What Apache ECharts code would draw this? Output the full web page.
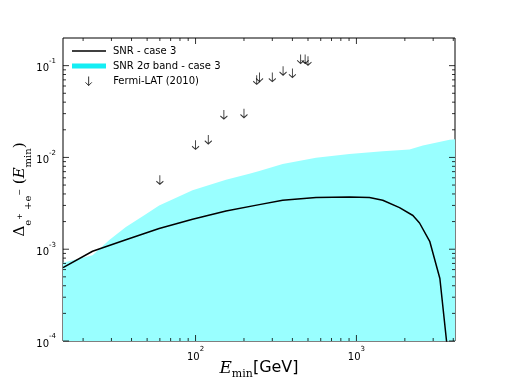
<!DOCTYPE html>
<html>
<head>
<meta charset="utf-8">
<script src="https://cdn.jsdelivr.net/npm/echarts@6/dist/echarts.min.js"></script>
<style>
  html, body { margin: 0; padding: 0; background: #fff; }
  #chart { width: 506px; height: 379px; }
</style>
</head>
<body>
<div id="chart"></div>
<script>
// band upper edge (SNR 2 sigma, case 3)
const bandE = [15, 22.9, 29.1, 36.9, 48, 59.4, 95.8, 154.6, 216, 249, 348, 561, 904, 1458, 2138, 2588, 3796, 4100]
const bandUpper = [7.1e-4, 8.6e-4, 1.26e-3, 1.75e-3, 2.34e-3, 3.0e-3, 4.4e-3, 5.7e-3, 6.65e-3, 7.1e-3, 8.5e-3, 9.9e-3, 1.09e-2, 1.17e-2, 1.22e-2, 1.35e-2, 1.56e-2, 1.58e-2]

// SNR case 3 curve
const lineE = [15, 22.9, 36.9, 59.4, 95.8, 154.6, 249, 348, 561, 904, 1205, 1458, 1853, 2245, 2468, 2855, 3302, 3632, 3700]
const lineV = [6.3e-4, 9.5e-4, 1.27e-3, 1.68e-3, 2.12e-3, 2.61e-3, 3.06e-3, 3.41e-3, 3.65e-3, 3.7e-3, 3.65e-3, 3.41e-3, 2.84e-3, 2.33e-3, 1.93e-3, 1.22e-3, 4.8e-4, 1.0e-4, 8e-5]

// Fermi-LAT (2010) upper limits
const fermiE = [60, 100, 120, 150, 200, 240, 250, 300, 350, 400, 450, 480, 500]
const fermiV = [5.7e-3, 1.37e-2, 1.57e-2, 2.93e-2, 3.03e-2, 7.0e-2, 7.5e-2, 7.5e-2, 8.8e-2, 8.3e-2, 0.118, 0.118, 0.113]

// axis ticks
const xMajor = [100, 1000]
const xMinor = [20, 30, 40, 50, 60, 70, 80, 90, 200, 300, 400, 500, 600, 700, 800, 900, 2000, 3000, 4000]
const yMajor = [1e-4, 1e-3, 1e-2, 1e-1]
const yMinor = []
;[-4, -3, -2, -1].forEach(d => {
  for (let k = 2; k <= 9; k++) {
    const v = k * Math.pow(10, d)
    if (v < 0.2) yMinor.push(v)
  }
})

const xMin = 15
const xMax = 4100
const yMin = 1e-4
const yMax = 0.2

const zip = (a, b) => a.map((v, i) => [v, b[i]])

// inside tick marks on all four sides, as small rect symbols placed on the frame
const tickItems = []
const addX = (vals, len) => vals.forEach(v => {
  tickItems.push({ value: [v, yMin], symbolSize: [1, len], symbolOffset: [0, -len / 2] })
  tickItems.push({ value: [v, yMax], symbolSize: [1, len], symbolOffset: [0, len / 2] })
})
const addY = (vals, len) => vals.forEach(v => {
  tickItems.push({ value: [xMin, v], symbolSize: [len, 1], symbolOffset: [len / 2, 0] })
  tickItems.push({ value: [xMax, v], symbolSize: [len, 1], symbolOffset: [-len / 2, 0] })
})
addX(xMajor, 6)
addX(xMinor, 3)
addY(yMajor, 6)
addY(yMinor, 3)

const expFormatter = v => '{b|10}{s|' + Math.round(Math.log10(v)) + '}'
const expRich = {
  b: { fontSize: 10, fontFamily: 'DejaVu Sans', color: '#000', lineHeight: 16, verticalAlign: 'bottom' },
  s: { fontSize: 7, fontFamily: 'DejaVu Sans', color: '#000', lineHeight: 9, verticalAlign: 'top' }
}

const legendText = { fontSize: 10, fontFamily: 'DejaVu Sans', color: '#000', padding: [0, 0, 0, 2] }

const chart = echarts.init(document.getElementById('chart'))
const option = {
  backgroundColor: '#fff',
  animation: false,
  grid: {
    left: 63, right: 51, top: 38, bottom: 38,
    outerBoundsMode: 'none',
    show: true, borderColor: '#000', borderWidth: 1, backgroundColor: 'rgba(0,0,0,0)'
  },
  legend: [
    {
      data: [{ name: 'SNR - case 3', icon: 'rect', itemStyle: { color: '#000' } }],
      left: 72, top: 46, padding: 0,
      itemWidth: 34, itemHeight: 1.5,
      textStyle: legendText
    },
    {
      data: [{ name: 'SNR 2\u03c3 band - case 3', icon: 'rect', itemStyle: { color: '#14eef4' } }],
      left: 72, top: 61, padding: 0,
      itemWidth: 34, itemHeight: 5,
      textStyle: legendText
    },
    {
      data: [{ name: 'Fermi-LAT (2010)', itemStyle: { color: 'rgba(0,0,0,0)', borderColor: '#000', borderWidth: 1 } }],
      left: 85, top: 76, padding: 0,
      itemWidth: 7, itemHeight: 9,
      textStyle: Object.assign({}, legendText, { padding: [0, 0, 0, 16] })
    }
  ],
  xAxis: {
    type: 'log',
    min: xMin,
    max: xMax,
    axisLine: { show: false },
    axisTick: { show: false },
    splitLine: { show: false },
    axisLabel: { show: true, customValues: xMajor, margin: 5, formatter: expFormatter, rich: expRich },
    name: '{e|E}{m|min}{g|[GeV]}',
    nameLocation: 'middle',
    nameGap: 19,
    nameMoveOverlap: false,
    nameTextStyle: {
      rich: {
        e: { fontSize: 17, fontFamily: 'DejaVu Serif', fontStyle: 'italic', color: '#000', lineHeight: 20, verticalAlign: 'top' },
        m: { fontSize: 11, fontFamily: 'DejaVu Serif', color: '#000', lineHeight: 13, verticalAlign: 'bottom' },
        g: { fontSize: 16, fontFamily: 'DejaVu Sans', color: '#000', lineHeight: 20, verticalAlign: 'top' }
      }
    }
  },
  yAxis: {
    type: 'log',
    min: yMin,
    max: yMax,
    axisLine: { show: false },
    axisTick: { show: false },
    splitLine: { show: false },
    axisLabel: { show: true, customValues: yMajor, margin: 7, formatter: expFormatter, rich: expRich },
    name: '{d|\u0394}{sub|e}{sup|+}{sub| +e}{sup|\u2212}{d| (}{e|E}{sub|min}{d|)}',
    nameLocation: 'middle',
    nameRotate: 90,
    nameGap: 30,
    nameMoveOverlap: false,
    nameTextStyle: {
      rich: {
        d: { fontSize: 15, fontFamily: 'DejaVu Serif', color: '#000', lineHeight: 18, verticalAlign: 'top' },
        e: { fontSize: 15, fontFamily: 'DejaVu Serif', fontStyle: 'italic', color: '#000', lineHeight: 18, verticalAlign: 'top' },
        sub: { fontSize: 10, fontFamily: 'DejaVu Serif', color: '#000', lineHeight: 11, verticalAlign: 'bottom' },
        sup: { fontSize: 8, fontFamily: 'DejaVu Serif', color: '#000', lineHeight: 20, verticalAlign: 'top', padding: [3, 0, 0, 0] }
      }
    }
  },
  series: [
    {
      name: 'SNR 2\u03c3 band - case 3',
      type: 'line',
      data: zip(bandE, bandUpper),
      symbol: 'none',
      lineStyle: { width: 0, color: '#14eef4' },
      itemStyle: { color: '#14eef4' },
      areaStyle: { color: '#99ffff', opacity: 1, origin: 'start' },
      z: 1
    },
    {
      name: 'SNR - case 3',
      type: 'line',
      data: zip(lineE, lineV),
      symbol: 'none',
      clip: true,
      lineStyle: { width: 1.5, color: '#000' },
      itemStyle: { color: '#000' },
      z: 3
    },
    {
      name: 'Fermi-LAT (2010)',
      type: 'scatter',
      data: zip(fermiE, fermiV),
      symbol: 'path://M4,0 L4,10 M0.5,6.5 L4,10 L7.5,6.5',
      symbolSize: [7, 9],
      itemStyle: { color: 'rgba(0,0,0,0)', borderColor: '#000', borderWidth: 1 },
      z: 4
    },
    {
      type: 'scatter',
      data: tickItems,
      symbol: 'rect',
      clip: false,
      silent: true,
      itemStyle: { color: '#000' },
      z: 10
    }
  ]
}
chart.setOption(option)
</script>
</body>
</html>
